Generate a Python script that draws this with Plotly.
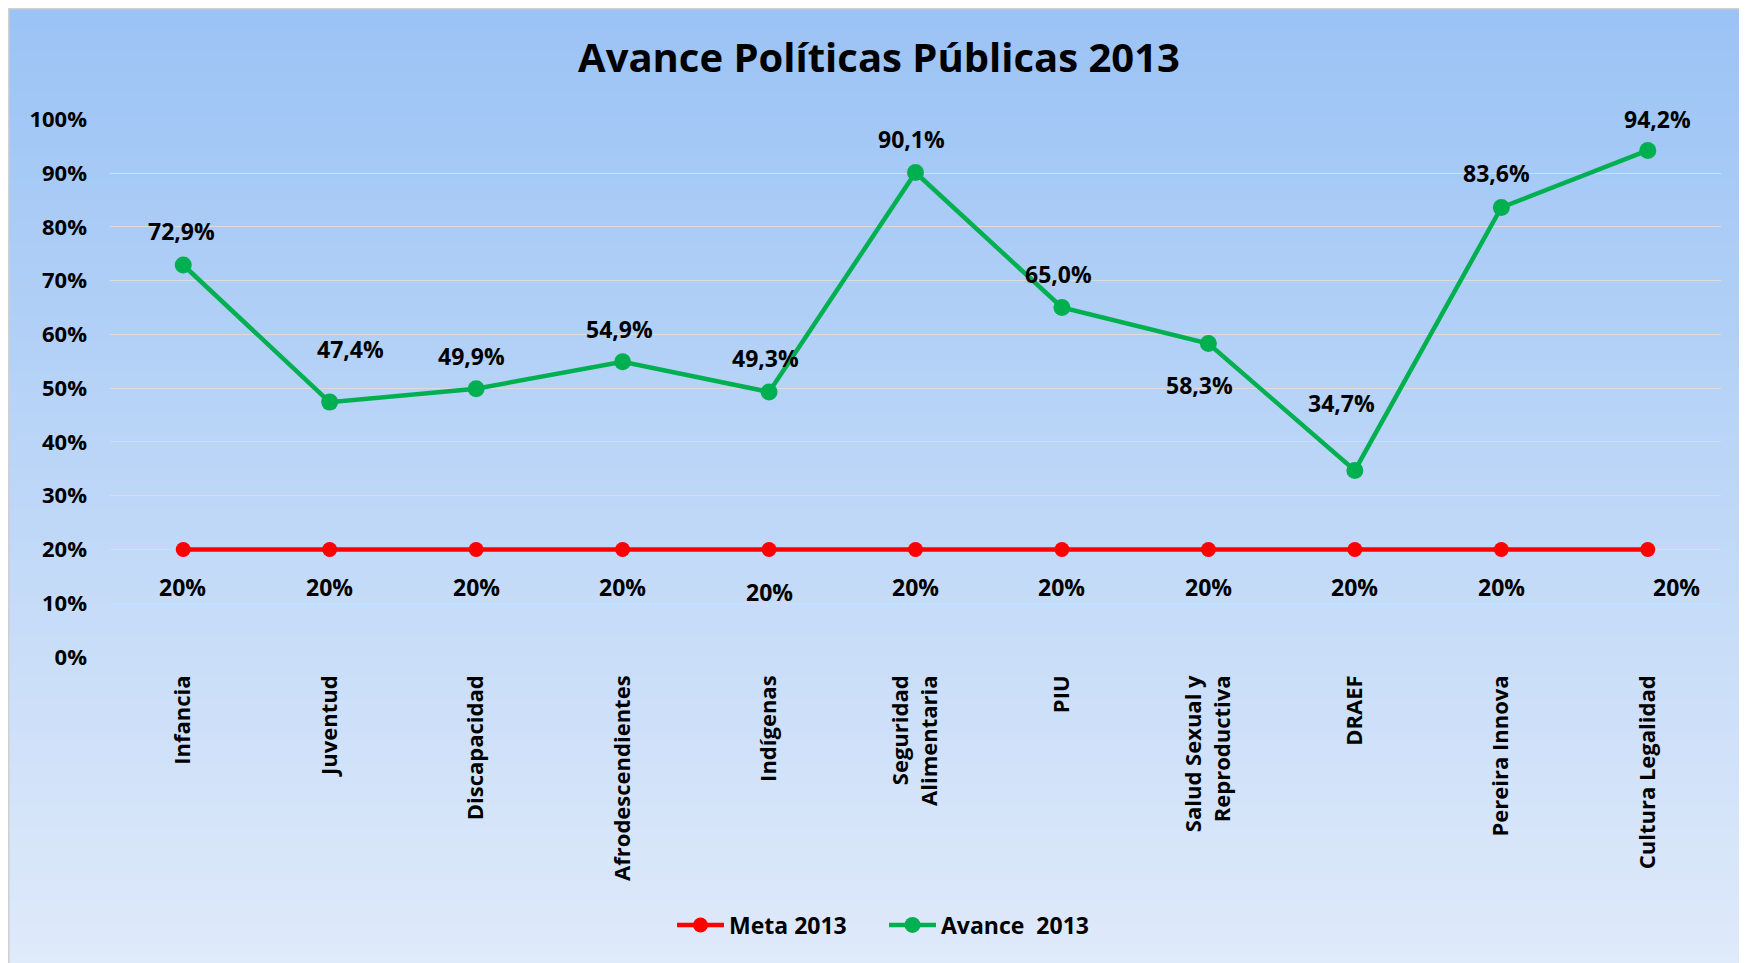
import plotly.graph_objects as go

# ---------------- data ----------------
categories = ["Infancia", "Juventud", "Discapacidad", "Afrodescendientes", "Indígenas",
              "Seguridad<br>Alimentaria", "PIU", "Salud Sexual y<br>Reproductiva",
              "DRAEF", "Pereira Innova", "Cultura Legalidad"]
meta_2013 = [0.20] * 11
avance_2013 = [0.729, 0.474, 0.499, 0.549, 0.493, 0.901, 0.650, 0.583, 0.347, 0.836, 0.942]
y_ticks = [0, 0.1, 0.2, 0.3, 0.4, 0.5, 0.6, 0.7, 0.8, 0.9, 1.0]
y_tick_labels = ["0%", "10%", "20%", "30%", "40%", "50%", "60%", "70%", "80%", "90%", "100%"]

# label nudges (pixels) as placed in the original
avance_label_shift = [(-2, 34), (21, 53), (-5, 33), (-3, 33), (-4, 34), (-4, 34),
                      (-3, 33), (-9, -41), (-13, 67), (-5, 34), (10, 31)]
meta_label_shift = [(-1, -38), (0, -38), (0, -38), (0, -38), (0, -43), (0, -38),
                    (0, -38), (0, -38), (0, -38), (0, -38), (29, -38)]

# ---------------- layout geometry (page body has an 8px margin) ----------------
W, H = 1739, 955
L, R, T, B = 102, 26, 111, 306
PW, PH = W - L - R, H - T - B

def px_x(px):
    return (px - L) / PW

def px_y(py):
    return (H - B - py) / PH

FONT = "Open Sans, Lato, sans-serif"
GREEN = "#00B050"
RED = "#FF0000"

fig = go.Figure()
fig.add_trace(go.Scatter(
    x=categories, y=meta_2013, name="Meta 2013", mode="lines+markers",
    line=dict(color=RED, width=4.5), marker=dict(color=RED, size=15),
))
fig.add_trace(go.Scatter(
    x=categories, y=avance_2013, name="Avance\u00a0 2013", mode="lines+markers",
    line=dict(color=GREEN, width=4.5), marker=dict(color=GREEN, size=17),
))

annotations = []
for c, v, (dx, dy) in zip(categories, avance_2013, avance_label_shift):
    annotations.append(dict(
        x=c, y=v, xref="x", yref="y", text=f"{v*100:.1f}".replace(".", ",") + "%",
        showarrow=False, xshift=dx, yshift=dy,
        font=dict(family=FONT, size=23, color="black", weight="bold")))
for c, v, (dx, dy) in zip(categories, meta_2013, meta_label_shift):
    annotations.append(dict(
        x=c, y=v, xref="x", yref="y", text=f"{v*100:.0f}%",
        showarrow=False, xshift=dx, yshift=dy,
        font=dict(family=FONT, size=23, color="black", weight="bold")))

# gradient background as stacked strips
shapes = []
top_col = (155, 195, 245)
bot_col = (223, 234, 250)
x0p, x1p = px_x(1), px_x(W + 2)
y_top, y_bot = 1, H + 2
N = 90
for i in range(N):
    f = i / (N - 1)
    col = tuple(round(top_col[k] + (bot_col[k] - top_col[k]) * f) for k in range(3))
    ya = y_top + (y_bot - y_top) * i / N
    yb = y_top + (y_bot - y_top) * (i + 1) / N + 1
    shapes.append(dict(type="rect", xref="paper", yref="paper", layer="below",
                       x0=x0p, x1=x1p, y0=px_y(yb), y1=px_y(ya),
                       fillcolor="rgb(%d,%d,%d)" % col, line=dict(width=0)))
# border
shapes.append(dict(type="rect", xref="paper", yref="paper", layer="below",
                   x0=px_x(0.5), x1=px_x(W + 5), y0=px_y(H + 5), y1=px_y(0.5),
                   fillcolor="rgba(0,0,0,0)", line=dict(color="#D0D0D0", width=2)))

fig.update_layout(
    width=W, height=H,
    margin=dict(l=L, r=R, t=T, b=B, autoexpand=False),
    paper_bgcolor="white", plot_bgcolor="rgba(0,0,0,0)",
    title=dict(text="Avance Políticas Públicas 2013", x=871 / W, xref="container",
               xanchor="center", y=1 - 50 / H, yref="container", yanchor="middle",
               font=dict(family=FONT, size=40, color="black", weight="bold")),
    font=dict(family=FONT, color="black"),
    xaxis=dict(range=[-0.5, 10.5], tickangle=-90, showgrid=False, zeroline=False,
               showline=False, ticks="", ticklabelstandoff=13,
               tickfont=dict(family=FONT, size=22, color="black", weight="bold")),
    yaxis=dict(range=[0, 1.0005], tickvals=y_ticks, ticktext=y_tick_labels,
               showgrid=True, gridcolor="#DCDCDC", gridwidth=1.2, zeroline=False,
               showline=False, ticks="", ticklabelstandoff=22,
               tickfont=dict(family=FONT, size=22, color="black", weight="bold")),
    legend=dict(orientation="h", x=px_x(876), xanchor="center", y=px_y(917),
                yanchor="middle", bgcolor="rgba(0,0,0,0)", entrywidth=150,
                entrywidthmode="pixels", itemwidth=47,
                font=dict(family=FONT, size=23, color="black", weight="bold")),
    annotations=annotations, shapes=shapes, showlegend=True,
)

fig.write_html("out.html")
